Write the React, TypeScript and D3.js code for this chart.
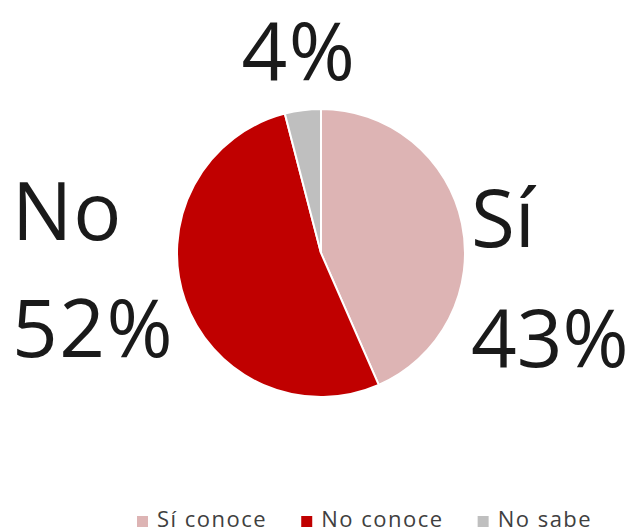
import React, { useEffect, useRef } from "react";
import * as d3 from "d3";

const categories = ["Sí conoce", "No conoce", "No sabe"];
const values = [43, 52, 4];
const labelTop = ["Sí", "No", ""];
const labelPct = ["43%", "52%", "4%"];
const colors = ["#DDB4B4", "#C00000", "#BFBFBF"];

const W = 634;
const H = 529;

export default function App() {
  const ref = useRef<SVGSVGElement | null>(null);

  useEffect(() => {
    const svg = d3.select(ref.current);
    svg.selectAll("*").remove();
    const cx = 321, cy = 253, r = 144;
    const font = "'Open Sans', 'Segoe UI', sans-serif";

    const pie = d3.pie<number>().sort(null).value((d) => d);
    const arcs = pie(values);
    const arc = d3.arc<d3.PieArcDatum<number>>().innerRadius(0).outerRadius(r);

    const g = svg.append("g").attr("transform", `translate(${cx},${cy})`);
    g.selectAll("path")
      .data(arcs)
      .join("path")
      .attr("d", arc as any)
      .attr("fill", (_, i) => colors[i])
      .attr("stroke", "#fff")
      .attr("stroke-width", 2);

    // data labels
    const fs = 80;
    const lab = svg.append("g").attr("font-family", font).attr("font-size", fs).attr("fill", "#1a1a1a");
    lab.append("text").attr("x", 471).attr("y", 247).text(labelTop[0]);
    lab.append("text").attr("x", 471).attr("y", 367).text(labelPct[0]);
    lab.append("text").attr("x", 12).attr("y", 240).attr("letter-spacing", 1).text(labelTop[1]);
    lab.append("text").attr("x", 12).attr("y", 357).attr("letter-spacing", 1.5).text(labelPct[1]);
    lab.append("text").attr("x", 299).attr("y", 80).attr("text-anchor", "middle").attr("letter-spacing", 1.5).text(labelPct[2]);

    // legend
    const leg = svg.append("g").attr("font-family", font).attr("font-size", 22).attr("letter-spacing", 1.5).attr("fill", "#404040");
    let x = 137;
    categories.forEach((c, i) => {
      leg.append("rect").attr("x", x).attr("y", 516).attr("width", 11).attr("height", 11).attr("fill", colors[i]);
      const t = leg.append("text").attr("x", x + 20).attr("y", 527).text(c);
      const w = (t.node() as SVGTextElement).getComputedTextLength();
      x = x + 20 + w + 34;
    });
  }, []);

  return (
    <svg ref={ref} width={W} height={H} style={{ display: "block", position: "absolute", left: 0, top: 0, background: "#fff" }} />
  );
}
